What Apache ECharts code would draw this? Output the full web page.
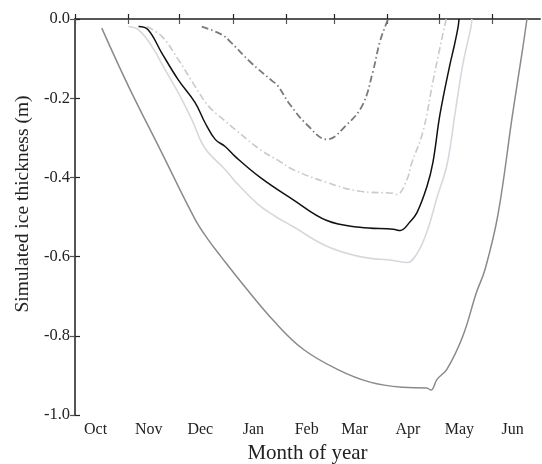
<!DOCTYPE html>
<html>
<head>
<meta charset="utf-8">
<script src="https://cdn.jsdelivr.net/npm/echarts@6/dist/echarts.min.js"></script>
<style>
  html, body { margin: 0; padding: 0; background: #fff; }
  #chart { width: 542px; height: 464px; }
</style>
</head>
<body>
<div id="chart"></div>
<script>
// x values are days counted from 1 October
const monthNames = ['Oct', 'Nov', 'Dec', 'Jan', 'Feb', 'Mar', 'Apr', 'May', 'Jun']
const monthStarts = [0, 31, 61, 92, 123, 151, 182, 212, 243]
const monthLabelAt = [12, 43, 73, 104, 135, 163, 194, 224, 255]

// deepest curve, mid gray solid
const daysA = [15.6, 31.2, 50.6, 70, 77.6, 85.1, 97.1, 116.6, 133, 152.6, 171.9, 191, 205, 207.4, 211, 216.8, 226, 234, 239, 246.5, 255, 261, 263.4]
const iceA = [-0.023, -0.170, -0.338, -0.506, -0.557, -0.600, -0.666, -0.766, -0.834, -0.884, -0.917, -0.930, -0.932, -0.937, -0.910, -0.884, -0.801, -0.690, -0.632, -0.494, -0.241, -0.072, 0]

// light gray solid
const daysB = [31.1, 36.9, 44.8, 52.5, 60.3, 68.1, 73.9, 77.8, 87.5, 93.3, 106.7, 116.6, 127, 146.8, 166, 185.5, 193.5, 199.4, 205.2, 211, 216.8, 221.4, 226, 230.7, 231.3]
const iceB = [-0.019, -0.027, -0.069, -0.128, -0.187, -0.254, -0.313, -0.338, -0.380, -0.410, -0.468, -0.498, -0.524, -0.574, -0.600, -0.610, -0.615, -0.592, -0.536, -0.450, -0.368, -0.241, -0.115, -0.022, 0]

// black solid
const daysC = [37, 42.6, 50.6, 60.1, 70, 75.8, 81.7, 87.5, 93.3, 107.9, 127, 146.8, 166, 185.5, 189.5, 195.3, 199.3, 205.1, 208.6, 212.7, 218.5, 220.8, 223.2, 223.8]
const iceC = [-0.019, -0.027, -0.086, -0.153, -0.211, -0.262, -0.304, -0.322, -0.347, -0.400, -0.456, -0.509, -0.526, -0.531, -0.534, -0.512, -0.489, -0.423, -0.362, -0.241, -0.115, -0.072, -0.022, 0]

// light gray dash-dot
const daysD = [42, 50.6, 60.3, 70, 77.8, 86.5, 93.3, 108, 119.5, 127, 146.8, 166, 185.5, 187.7, 193.5, 196, 202.8, 208.6, 212.7, 215.6, 216.3]
const iceD = [-0.019, -0.044, -0.103, -0.170, -0.220, -0.254, -0.279, -0.330, -0.360, -0.380, -0.413, -0.435, -0.440, -0.443, -0.405, -0.367, -0.284, -0.158, -0.072, -0.014, 0]

// shallowest curve, dark gray dash-dot
const daysE = [73.9, 85.8, 90.4, 102, 115.4, 117.8, 125.3, 135.2, 146.8, 158.4, 167.7, 173.6, 177.7, 181.8, 182.4]
const iceE = [-0.019, -0.040, -0.057, -0.108, -0.158, -0.166, -0.216, -0.267, -0.304, -0.267, -0.216, -0.133, -0.057, -0.007, 0]

const pairs = (xs, ys) => xs.map((x, i) => [x, ys[i]])

const chart = echarts.init(document.getElementById('chart'), null, { renderer: 'canvas' })

const font = 'Liberation Serif'
const axisCol = '#222'

const makeLine = (name, xs, ys, color, width, dash) => ({
  name: name,
  type: 'line',
  data: pairs(xs, ys),
  showSymbol: false,
  smooth: 0.4,
  xAxisIndex: 0,
  yAxisIndex: 0,
  lineStyle: { color: color, width: width, type: dash || 'solid' },
  z: 3
})

const option = {
  animation: false,
  backgroundColor: '#fff',
  grid: { left: 75, right: 2, top: 19, bottom: 49, outerBoundsMode: 'none' },
  xAxis: [
    {
      type: 'value',
      min: 0,
      max: 271,
      position: 'bottom',
      name: 'Month of year',
      nameLocation: 'middle',
      nameGap: 27,
      nameTextStyle: { fontFamily: font, fontSize: 21, color: '#222' },
      axisLine: { show: true, lineStyle: { color: axisCol, width: 1.5 } },
      axisTick: { show: true, inside: true, length: 5, customValues: monthStarts, lineStyle: { color: axisCol, width: 1.2 } },
      axisLabel: {
        customValues: monthLabelAt,
        margin: 7,
        fontFamily: font,
        fontSize: 16,
        color: '#222',
        formatter: v => monthNames[monthLabelAt.indexOf(v)] || ''
      },
      splitLine: { show: false }
    },
    {
      type: 'value',
      min: 0,
      max: 271,
      position: 'top',
      axisLine: { show: true, lineStyle: { color: '#555', width: 1.5 } },
      axisTick: { show: true, inside: true, length: 5, customValues: monthStarts, lineStyle: { color: '#555', width: 1.2 } },
      axisLabel: { show: false },
      splitLine: { show: false }
    }
  ],
  yAxis: [
    {
      type: 'value',
      min: -1,
      max: 0,
      interval: 0.2,
      position: 'left',
      name: 'Simulated ice thickness (m)',
      nameLocation: 'middle',
      nameRotate: 90,
      nameGap: 38,
      nameTextStyle: { fontFamily: font, fontSize: 19.5, color: '#222', padding: [0, 0, 0, 26] },
      axisLine: { show: true, lineStyle: { color: axisCol, width: 1.5 } },
      axisTick: { show: true, inside: true, length: 5, lineStyle: { color: axisCol, width: 1.2 } },
      axisLabel: {
        margin: 5,
        fontFamily: font,
        fontSize: 16.5,
        color: '#222',
        formatter: v => v.toFixed(1)
      },
      splitLine: { show: false }
    },
    {
      type: 'value',
      min: -1,
      max: 0,
      interval: 0.2,
      position: 'right',
      axisLine: { show: true, lineStyle: { color: '#555', width: 1.5 } },
      axisTick: { show: true, inside: true, length: 5, lineStyle: { color: '#555', width: 1.2 } },
      axisLabel: { show: false },
      splitLine: { show: false }
    }
  ],
  series: [
    makeLine('A', daysA, iceA, '#8a8a8a', 1.5),
    makeLine('B', daysB, iceB, '#d6d8de', 1.6),
    makeLine('D', daysD, iceD, '#c9c9c9', 1.6, [7, 3, 1.5, 3]),
    makeLine('E', daysE, iceE, '#7a7a7a', 1.8, [7, 3, 1.5, 3]),
    makeLine('C', daysC, iceC, '#111111', 1.5)
  ]
}

chart.setOption(option)
</script>
</body>
</html>
